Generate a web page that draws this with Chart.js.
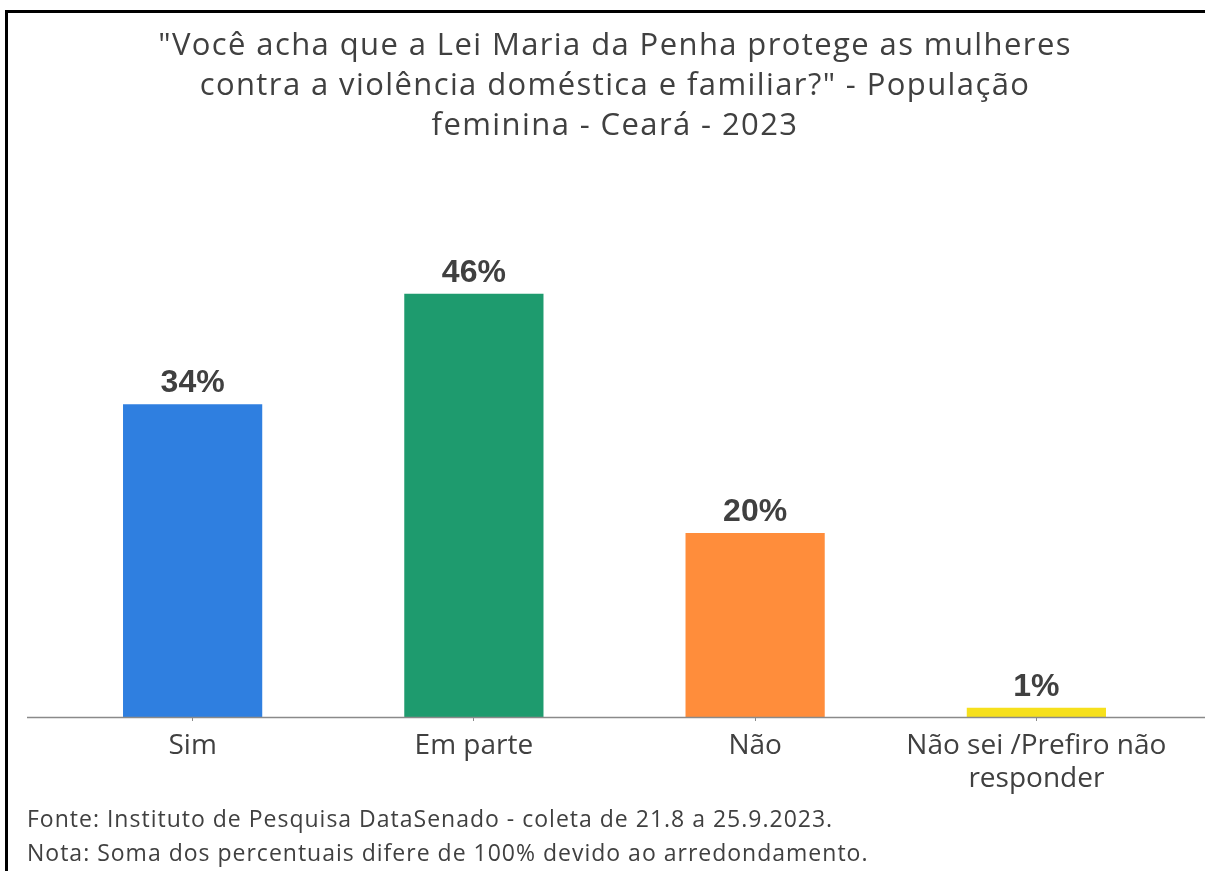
<!DOCTYPE html>
<html>
<head>
<meta charset="utf-8">
<script src="https://cdn.jsdelivr.net/npm/chart.js@4.4.1/dist/chart.umd.min.js"></script>
<style>
  html, body { margin: 0; padding: 0; background: #fff; }
  #wrap { position: relative; width: 1205px; height: 871px; overflow: hidden; }
  #frame { position: absolute; left: 5px; top: 10px; width: 1300px; height: 1000px;
           border-left: 3px solid #000; border-top: 3px solid #000; pointer-events: none; }
  canvas { position: absolute; left: 0; top: 0; }
</style>
</head>
<body>
<div id="wrap">
  <canvas id="chart" width="1205" height="871"></canvas>
  <div id="frame"></div>
</div>
<script>
// data
const categories = ['Sim', 'Em parte', 'Não', ['Não sei /Prefiro não', 'responder']];
const values = [34, 46, 20, 1];
const barColors = ['#2F7FE0', '#1E9B6E', '#FF8D3B', '#F6E01C'];
const titleLines = [
    '"Você acha que a Lei Maria da Penha protege as mulheres',
    'contra a violência doméstica e familiar?" - População',
    'feminina - Ceará - 2023'
];
const footLines = [
    'Fonte: Instituto de Pesquisa DataSenado - coleta de 21.8 a 25.9.2023.',
    'Nota: Soma dos percentuais difere de 100% devido ao arredondamento.'
];

const textColor = '#404040';

// title, footer, value labels and the long base line
const decorations = {
    id: 'decorations',
    afterDraw(chart) {
        const ctx = chart.ctx;
        const area = chart.chartArea;
        ctx.save();

        ctx.fillStyle = textColor;
        ctx.textAlign = 'center';
        ctx.textBaseline = 'alphabetic';
        ctx.font = '31px "Open Sans"';
        ctx.letterSpacing = '1.4px';
        titleLines.forEach((line, i) => {
            ctx.fillText(line, 615, 55 + i * 40);
        });

        ctx.textAlign = 'left';
        ctx.font = '23px "Open Sans"';
        ctx.letterSpacing = '1px';
        footLines.forEach((line, i) => {
            ctx.fillText(line, 27, 827 + i * 34);
        });
        ctx.letterSpacing = '0px';

        ctx.strokeStyle = '#8a8a8a';
        ctx.lineWidth = 1.5;
        ctx.beginPath();
        ctx.moveTo(27, area.bottom + 0.5);
        ctx.lineTo(1205, area.bottom + 0.5);
        ctx.stroke();

        ctx.textAlign = 'center';
        ctx.font = 'bold 32px "Liberation Sans"';
        const meta = chart.getDatasetMeta(0);
        meta.data.forEach((bar, i) => {
            ctx.fillText(values[i] + '%', bar.x, bar.y - 12);
        });
        ctx.restore();
    }
};

new Chart(document.getElementById('chart'), {
    type: 'bar',
    data: {
        labels: categories,
        datasets: [{
            data: values,
            backgroundColor: barColors,
            borderWidth: 0,
            barPercentage: 0.495,
            categoryPercentage: 1
        }]
    },
    options: {
        responsive: false,
        animation: false,
        layout: { padding: { left: 52, right: 28, top: 257, bottom: 0 } },
        plugins: {
            legend: { display: false },
            tooltip: { enabled: false }
        },
        scales: {
            y: { display: false, min: 0, max: 50 },
            x: {
                afterFit(scale) { scale.height = 154; },
                border: { display: false },
                grid: { drawOnChartArea: false, offset: false, tickLength: 4, color: '#8a8a8a' },
                ticks: {
                    color: textColor,
                    font: { family: '"Open Sans"', size: 28 },
                    padding: 8
                }
            }
        }
    },
    plugins: [decorations]
});
</script>
</body>
</html>
